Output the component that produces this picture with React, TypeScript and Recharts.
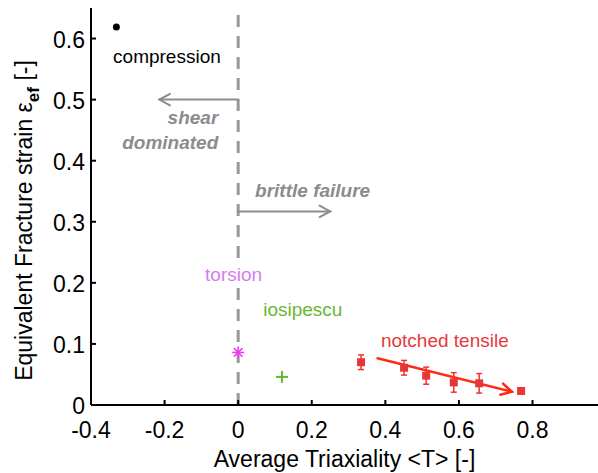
import React from 'react';
import { ScatterChart, Scatter, XAxis, YAxis, ReferenceLine, ErrorBar } from 'recharts';

const FONT = '"Liberation Sans", Arial, sans-serif';

const xTicks = [-0.4, -0.2, 0, 0.2, 0.4, 0.6, 0.8];
const yTicks = [0, 0.1, 0.2, 0.3, 0.4, 0.5, 0.6];

const compression = [{ t: -0.331, e: 0.619 }];
const torsion = [{ t: 0.0, e: 0.086 }];
const iosipescu = [{ t: 0.119, e: 0.046 }];

// notched tensile specimens
const notchedT = [0.334, 0.451, 0.511, 0.586, 0.655];
const notchedE = [0.07, 0.061, 0.048, 0.037, 0.0355];
const notchedErr = [0.012, 0.012, 0.014, 0.016, 0.016];
const lastNotched = [{ t: 0.769, e: 0.023 }];

const notched = notchedT.map((t, i) => ({ t, e: notchedE[i], err: notchedErr[i] }));

// annotation text positions in data units
const notes = [
  { t: -0.34, e: 0.57, text: 'compression', color: '#000', anchor: 'start', bold: false },
  { t: -0.054, e: 0.47, text: 'shear', color: '#8c8c8c', anchor: 'end', bold: true },
  { t: -0.054, e: 0.43, text: 'dominated', color: '#8c8c8c', anchor: 'end', bold: true },
  { t: 0.046, e: 0.352, text: 'brittle failure', color: '#8c8c8c', anchor: 'start', bold: true },
  { t: -0.09, e: 0.213, text: 'torsion', color: '#d67cf2', anchor: 'start', bold: false },
  { t: 0.068, e: 0.157, text: 'iosipescu', color: '#66b832', anchor: 'start', bold: false },
  { t: 0.388, e: 0.105, text: 'notched tensile', color: '#e8383a', anchor: 'start', bold: false },
];

const arrows = [
  { from: { x: 0, y: 0.5 }, to: { x: -0.214, y: 0.5 }, color: '#8c8c8c', w: 2 },
  { from: { x: 0, y: 0.317 }, to: { x: 0.25, y: 0.317 }, color: '#8c8c8c', w: 2 },
  { from: { x: 0.379, y: 0.0765 }, to: { x: 0.744, y: 0.0218 }, color: '#ff2a10', w: 2.5 },
];

const fmt = (v: number) => (v === 0 ? '0' : String(v));

const BottomTick = (p: any) => (
  <g>
    <line x1={p.x} x2={p.x} y1={p.y} y2={p.y - 5} stroke="#000" strokeWidth={2} />
    <text x={p.x} y={p.y + 25} textAnchor="middle" dominantBaseline="central" fontSize={23} fontFamily={FONT} fill="#000">
      {fmt(p.payload.value)}
    </text>
  </g>
);

const TopTick = (p: any) => <line x1={p.x} x2={p.x} y1={p.y} y2={p.y + 5} stroke="#000" strokeWidth={2} />;

const LeftTick = (p: any) => (
  <g>
    <line x1={p.x} x2={p.x + 5} y1={p.y} y2={p.y} stroke="#000" strokeWidth={2} />
    <text x={p.x - 6} y={p.y + 1} textAnchor="end" dominantBaseline="central" fontSize={23} fontFamily={FONT} fill="#000">
      {fmt(p.payload.value)}
    </text>
  </g>
);

const Arrow = (p: any) => {
  const { x1, y1, x2, y2, stroke, strokeWidth } = p;
  const a = Math.atan2(y2 - y1, x2 - x1);
  const L = 12;
  const s = 0.5;
  return (
    <g stroke={stroke} strokeWidth={strokeWidth} fill="none" strokeLinecap="round">
      <line x1={x1} y1={y1} x2={x2} y2={y2} />
      <polyline
        points={`${x2 - L * Math.cos(a - s)},${y2 - L * Math.sin(a - s)} ${x2},${y2} ${x2 - L * Math.cos(a + s)},${y2 - L * Math.sin(a + s)}`}
      />
    </g>
  );
};

const Dot = (p: any) => <circle cx={p.cx} cy={p.cy} r={3.5} fill="#000" />;

const Star = (p: any) => {
  const r = 6;
  const d = r * 0.72;
  return (
    <g stroke="#ee3cee" strokeWidth={1.6}>
      <line x1={p.cx} x2={p.cx} y1={p.cy - r} y2={p.cy + r} />
      <line x1={p.cx - r} x2={p.cx + r} y1={p.cy} y2={p.cy} />
      <line x1={p.cx - d} x2={p.cx + d} y1={p.cy - d} y2={p.cy + d} />
      <line x1={p.cx - d} x2={p.cx + d} y1={p.cy + d} y2={p.cy - d} />
    </g>
  );
};

const Plus = (p: any) => (
  <g stroke="#5fb82e" strokeWidth={2}>
    <line x1={p.cx} x2={p.cx} y1={p.cy - 6} y2={p.cy + 6} />
    <line x1={p.cx - 6} x2={p.cx + 6} y1={p.cy} y2={p.cy} />
  </g>
);

const Square = (p: any) => <rect x={p.cx - 4} y={p.cy - 4} width={8} height={8} fill="#e83535" />;

const Note = (p: any) => {
  const n = p.payload;
  return (
    <text
      x={p.cx}
      y={p.cy}
      textAnchor={n.anchor}
      dominantBaseline="central"
      fontSize={19}
      fontFamily={FONT}
      fontWeight={n.bold ? 'bold' : 'normal'}
      fontStyle={n.bold ? 'italic' : 'normal'}
      fill={n.color}
      stroke="#fff"
      strokeWidth={4}
      paintOrder="stroke"
    >
      {n.text}
    </text>
  );
};

const XLabel = (p: any) => {
  const vb = p.viewBox;
  return (
    <text x={vb.x + vb.width / 2} y={vb.y + 62} textAnchor="middle" fontSize={23} fontFamily={FONT} fill="#000">
      Average Triaxiality &lt;T&gt; [-]
    </text>
  );
};

const YLabel = (p: any) => {
  const vb = p.viewBox;
  const x = 32;
  const y = vb.y + vb.height / 2 + 14;
  return (
    <text x={x} y={y} transform={`rotate(-90, ${x}, ${y})`} textAnchor="middle" fontSize={23} fontFamily={FONT} fill="#000">
      Equivalent Fracture strain {'\u03b5'}
      <tspan fontSize={17} fontWeight="bold" dy={7}>ef</tspan>
      <tspan dy={-7}> [-]</tspan>
    </text>
  );
};

export default function App() {
  return (
    <div style={{ position: 'absolute', left: 0, top: 0, background: '#fff' }}>
      <ScatterChart width={598} height={473} margin={{ top: 8, right: 0, left: 0, bottom: 0 }}>
        <XAxis
          type="number"
          dataKey="t"
          domain={[-0.4, 0.978]}
          ticks={xTicks}
          allowDataOverflow
          height={68}
          axisLine={{ stroke: '#000', strokeWidth: 2 }}
          tickLine={false}
          tickSize={0}
          tickMargin={0}
          tick={BottomTick}
          interval={0}
          label={XLabel}
        />
        <XAxis
          xAxisId="top"
          orientation="top"
          type="number"
          dataKey="t"
          domain={[-0.4, 0.978]}
          ticks={xTicks}
          allowDataOverflow
          height={0}
          axisLine={{ stroke: '#000', strokeWidth: 2 }}
          tickLine={false}
          tickSize={0}
          tickMargin={0}
          tick={TopTick}
          interval={0}
        />
        <YAxis
          type="number"
          dataKey="e"
          domain={[0, 0.65]}
          ticks={yTicks}
          allowDataOverflow
          width={91}
          axisLine={{ stroke: '#000', strokeWidth: 2 }}
          tickLine={false}
          tickSize={0}
          tickMargin={0}
          tick={LeftTick}
          interval={0}
          label={YLabel}
        />
        <ReferenceLine x={0} stroke="#999" strokeWidth={3} strokeDasharray="12 9" />
        {arrows.map((a, i) => (
          <ReferenceLine key={i} segment={[a.from, a.to]} stroke={a.color} strokeWidth={a.w} shape={Arrow} />
        ))}
        <Scatter data={notes} shape={Note} isAnimationActive={false} />
        <Scatter data={compression} shape={Dot} isAnimationActive={false} />
        <Scatter data={torsion} shape={Star} isAnimationActive={false} />
        <Scatter data={iosipescu} shape={Plus} isAnimationActive={false} />
        <Scatter data={notched} shape={Square} isAnimationActive={false}>
          <ErrorBar dataKey="err" direction="y" width={3} stroke="#e83535" strokeWidth={1.5} />
        </Scatter>
        <Scatter data={lastNotched} shape={Square} isAnimationActive={false} />
      </ScatterChart>
    </div>
  );
}
